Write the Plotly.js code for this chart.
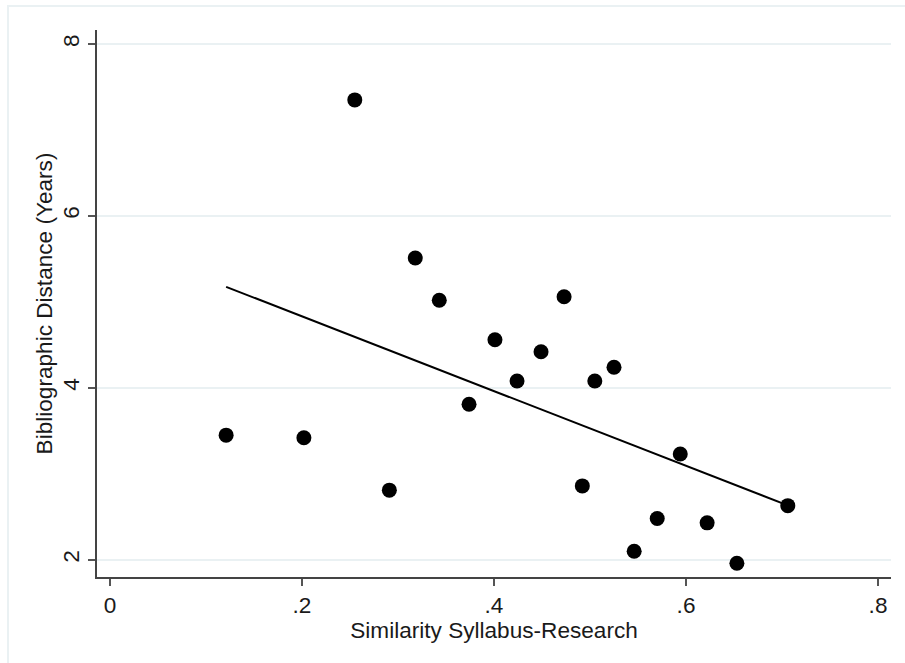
<!DOCTYPE html>
<html>
<head>
<meta charset="utf-8">
<script src="https://cdn.plot.ly/plotly-3.0.1.min.js"></script>
<style>html,body{margin:0;padding:0;background:#fff;}#chart{width:905px;height:663px;}</style>
</head>
<body>
<div id="chart"></div>
<script>
// Data
const similarity = [0.121, 0.202, 0.255, 0.291, 0.318, 0.343, 0.374, 0.401, 0.424, 0.449, 0.473, 0.492, 0.505, 0.525, 0.546, 0.570, 0.594, 0.622, 0.653, 0.706];
const distance   = [3.45, 3.42, 7.35, 2.81, 5.51, 5.02, 3.81, 4.56, 4.08, 4.42, 5.06, 2.86, 4.08, 4.24, 2.10, 2.48, 3.23, 2.43, 1.96, 2.63];
const xTickVals = [0, 0.2, 0.4, 0.6, 0.8];
const xTickText = ["0", ".2", ".4", ".6", ".8"];
const yTickVals = [2, 4, 6, 8];
const yTickText = ["2", "4", "6", "8"];

// OLS fitted line
const n = similarity.length;
const mx = similarity.reduce((a,b)=>a+b,0)/n;
const my = distance.reduce((a,b)=>a+b,0)/n;
let sxy=0, sxx=0;
for (let i=0;i<n;i++){ sxy += (similarity[i]-mx)*(distance[i]-my); sxx += (similarity[i]-mx)**2; }
const slope = sxy/sxx, intercept = my - slope*mx;
const xmin = Math.min(...similarity), xmax = Math.max(...similarity);
const fitX = [xmin, xmax];
const fitY = fitX.map(v => intercept + slope*v);

const font = {family: "Liberation Sans, Arial, sans-serif", size: 22.6, color: "#1a1a1a"};

const data = [
  {x: similarity, y: distance, type: "scatter", mode: "markers",
   marker: {color: "#000", size: 15}, showlegend: false, hoverinfo: "x+y"},
  {x: fitX, y: fitY, type: "scatter", mode: "lines",
   line: {color: "#000", width: 2}, showlegend: false}
];

const layout = {
  width: 905, height: 663,
  paper_bgcolor: "#fff", plot_bgcolor: "#fff",
  margin: {l: 97, r: 14, t: 30, b: 86},
  font: font,
  xaxis: {
    range: [-0.0135, 0.8135], tickvals: xTickVals, ticktext: xTickText,
    showgrid: false, zeroline: false, showline: true, linecolor: "#444", linewidth: 2,
    ticks: "outside", ticklen: 7, tickwidth: 2, tickcolor: "#555",
    tickfont: font, automargin: false,
    title: {text: "Similarity Syllabus-Research", font: font, standoff: 0}
  },
  yaxis: {
    range: [1.80, 8.163], tickvals: yTickVals, ticktext: yTickText, tickangle: -90,
    showgrid: true, gridcolor: "#eaf1f3", gridwidth: 2, zeroline: false,
    showline: true, linecolor: "#444", linewidth: 2,
    ticks: "outside", ticklen: 7, tickwidth: 2, tickcolor: "#555",
    tickfont: font, automargin: false,
    title: {text: "Bibliographic Distance (Years)", font: font, standoff: 0}
  },
  shapes: [
    {type: "rect", xref: "paper", yref: "paper", layer: "below",
     x0: -89/794, x1: 1 + 20/794, y0: -95/547, y1: 1 + 24/547,
     line: {color: "#eaf1f3", width: 2}, fillcolor: "rgba(0,0,0,0)"}
  ]
};

Plotly.newPlot("chart", data, layout, {displayModeBar: false, staticPlot: true});
</script>
</body>
</html>
